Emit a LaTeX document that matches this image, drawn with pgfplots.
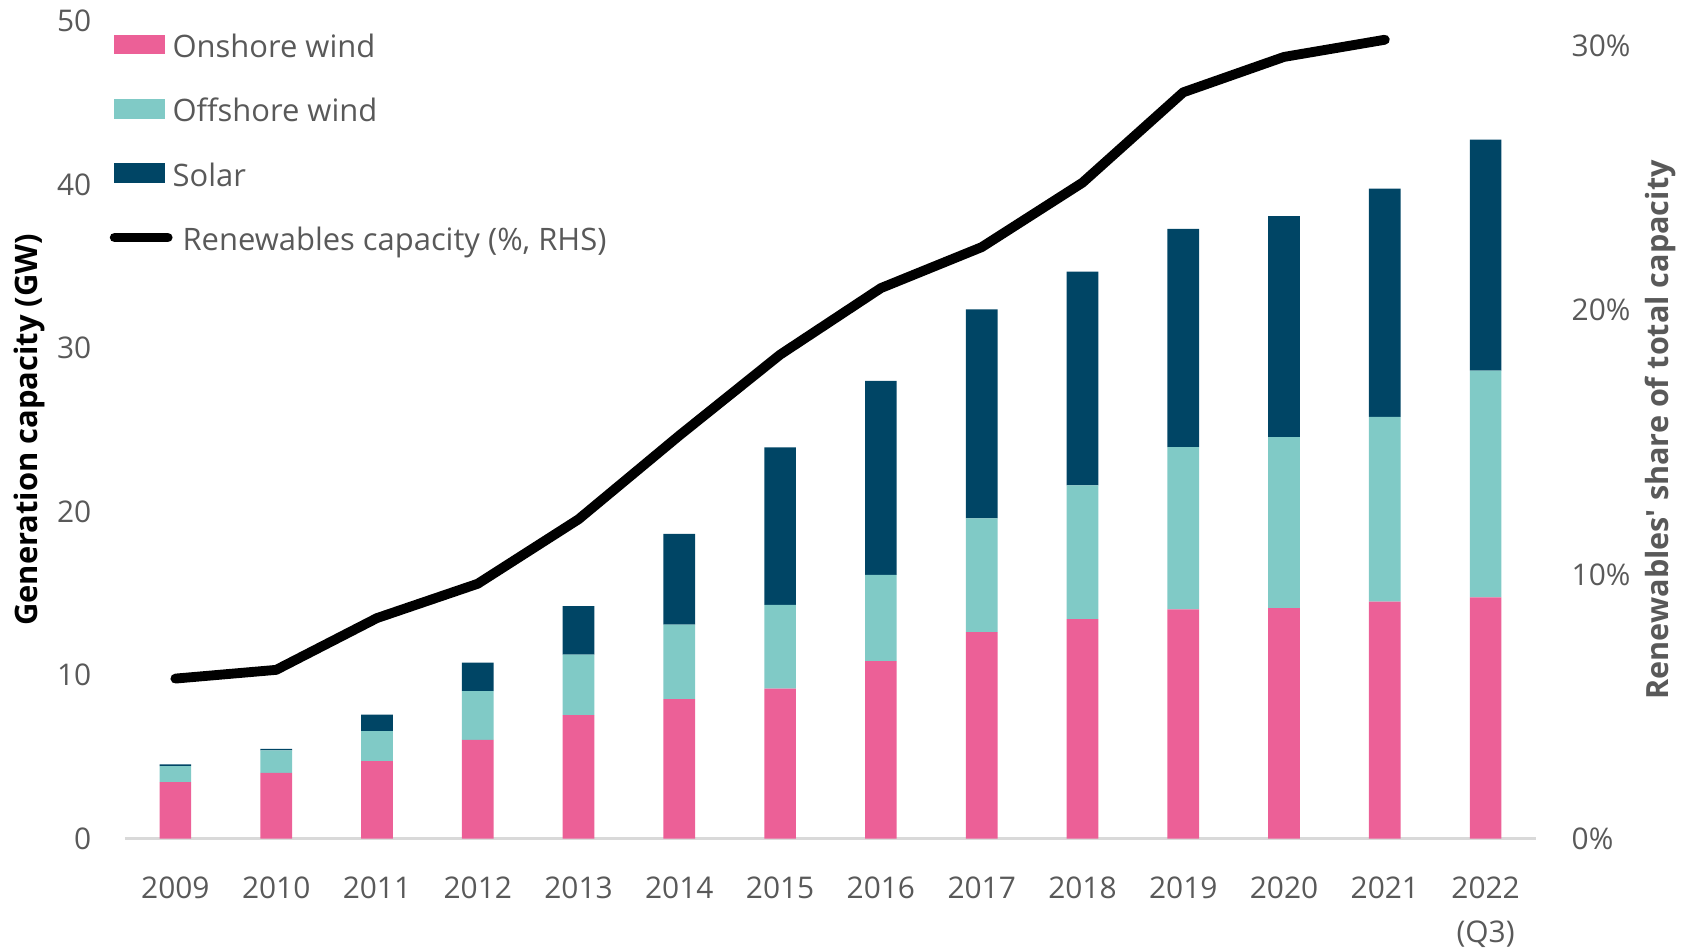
\documentclass[border=0pt]{standalone}
\usepackage{fontspec}
\setmainfont{Open Sans}
\usepackage{pgfplots}
\usepackage{pgfplotstable}
\pgfplotsset{compat=1.18}

\definecolor{onshore}{RGB}{236,96,151}
\definecolor{offshore}{RGB}{128,202,198}
\definecolor{solar}{RGB}{0,69,101}
\definecolor{txtgrey}{RGB}{89,89,89}
\definecolor{basegrey}{RGB}{217,217,217}

% GW by technology, 2009 .. 2022 (Q3)
\pgfplotstableread{
x  on     off    sol
0  3.46   0.98   0.10
1  4.03   1.37   0.09
2  4.75   1.83   1.00
3  6.05   2.98   1.73
4  7.56   3.69   2.97
5  8.53   4.56   5.55
6  9.17   5.13   9.63
7  10.86  5.27   11.86
8  12.63  6.96   12.77
9  13.42  8.19   13.07
10 14.02  9.92   13.35
11 14.10  10.45  13.52
12 14.50  11.30  13.95
13 14.75  13.87  14.12
}\capacity

% renewables share of total capacity, %
\pgfplotstableread{
x  share
0  6.06
1  6.39
2  8.35
3  9.65
4  12.09
5  15.26
6  18.32
7  20.84
8  22.39
9  24.83
10 28.25
11 29.59
12 30.24
}\share

\begin{document}
\begin{tikzpicture}
\useasboundingbox (0,0) rectangle (168.5mm,95mm);
\pgfplotsset{
  frame/.style={
    at={(12.5mm,11.13mm)}, anchor=south west,
    scale only axis, width=141.1mm, height=81.77mm,
    xmin=-0.5, xmax=13.5,
    enlarge x limits=false, enlarge y limits=false,
    tick style={draw=none},
    ticklabel style={font=\fontsize{8.5}{12.5}\selectfont, text=txtgrey, inner sep=0pt},
  },
}
\begin{axis}[frame,
  ymin=0, ymax=50,
  ytick={0,10,20,30,40,50}, yticklabels={0,10,20,30,40,50},
  xtick={0,...,13},
  xticklabels={2009,2010,2011,2012,2013,2014,2015,2016,2017,2018,2019,2020,2021,{2022\\(Q3)}},
  axis x line*=bottom, axis y line*=left,
  x axis line style={basegrey, line width=0.9pt},
  y axis line style={draw=none},
  xticklabel style={anchor=north, yshift=-3.72mm, align=center},
  yticklabel style={anchor=east, xshift=-3.3mm},
  ylabel={Generation capacity (GW)},
  ylabel style={at={(axis description cs:-0.068,0.5)}, anchor=center,
    font=\fontsize{8.8}{10}\selectfont\bfseries, text=black},
  ybar stacked, bar width=3.17mm,
]
\addplot[fill=onshore, draw=none] table[x=x, y=on] {\capacity};
\addplot[fill=offshore, draw=none] table[x=x, y=off] {\capacity};
\addplot[fill=solar, draw=none] table[x=x, y=sol] {\capacity};
\end{axis}

\begin{axis}[frame,
  ymin=0, ymax=30.95,
  ytick={0,10,20,30}, yticklabels={0\%,10\%,20\%,30\%},
  axis y line*=right, axis x line=none,
  y axis line style={draw=none},
  yticklabel style={anchor=west, xshift=3.5mm},
  ylabel={Renewables\textquotesingle\ share of total capacity},
  ylabel style={at={(axis description cs:1.088,0.5)}, anchor=center,
    font=\fontsize{8.7}{10}\selectfont\bfseries, text=txtgrey},
  legend cell align=left,
  legend style={draw=none, fill=none, inner sep=0pt, outer sep=0pt,
    at={(rel axis cs:-0.0108,1.0105)}, anchor=north west,
    font=\fontsize{8.8}{10}\selectfont, text=txtgrey,
    row sep=0pt,
    nodes={inner sep=0pt, text height=12.8pt, text depth=5.5pt},
    /tikz/every even column/.append style={column sep=1.1mm}},
]
\addlegendimage{legend image code/.code={\fill[onshore] (0mm,-0.9mm) rectangle (5mm,0.9mm);}}
\addlegendentry{Onshore wind}
\addlegendimage{legend image code/.code={\fill[offshore] (0mm,-0.9mm) rectangle (5mm,0.9mm);}}
\addlegendentry{Offshore wind}
\addlegendimage{legend image code/.code={\fill[solar] (0mm,-0.9mm) rectangle (5mm,0.9mm);}}
\addlegendentry{Solar}
\addplot[black, line width=2.8pt, line cap=round, line join=round,
  legend image code/.code={\draw[black, line width=2.8pt, line cap=round] (0mm,0mm) -- (5.3mm,0mm);}]
  table[x=x, y=share] {\share};
\addlegendentry{\hspace{1mm}Renewables capacity (\%, RHS)}
\end{axis}
\end{tikzpicture}
\end{document}
